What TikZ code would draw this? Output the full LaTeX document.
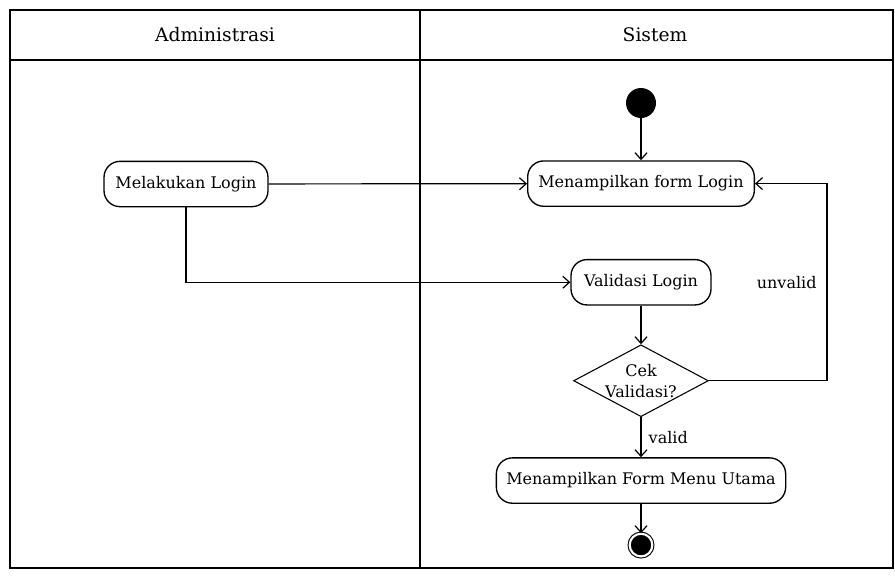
\documentclass[tikz,border=0pt]{standalone}
\usepackage{fontspec}
\setmainfont{DejaVu Serif}
\usepackage{tikz}
\usetikzlibrary{shapes.geometric, arrows.meta, positioning}

\begin{document}
\begin{tikzpicture}[
        x=0.75pt, y=-0.75pt,
        font=\fontsize{12}{14}\selectfont,
        action/.style={rectangle, draw, line width=1pt, rounded corners=12pt, align=center, minimum height=34pt},
        decision/.style={diamond, draw, line width=0.8pt, align=center, inner sep=0pt, aspect=1.875, font=\fontsize{12}{16}\selectfont},
        startdot/.style={circle, fill=black, minimum size=22.5pt, inner sep=0pt},
        enddot/.style={circle, fill=black, draw, line width=0.8pt, double=white, double distance=1.6pt, minimum size=17pt, inner sep=0pt},
        lane/.style={line width=1.2pt},
        arrow/.style={-{Straight Barb[length=5pt, width=9pt]}, line width=0.9pt}
    ]
        \useasboundingbox (0,0) rectangle (895,575);

        % swimlanes
        \draw[lane] (10,10) rectangle (893,568);
        \draw[lane] (10,60) -- (893,60);
        \draw[lane] (420,10) -- (420,568);
        \node[font=\fontsize{14}{16}\selectfont] (laneadm) at (215,35) {Administrasi};
        \node[font=\fontsize{14}{16}\selectfont] (lanesys) at (655,35) {Sistem};

        % activities
        \node[startdot] (start) at (641,103) {};
        \node[action, minimum width=170pt, below=31.5pt of start] (form) {Menampilkan form Login};
        \node[action, minimum width=123pt] (login) at (186,184) {Melakukan Login};
        \node[action, minimum width=105pt, below=39pt of form] (valid) {Validasi Login};
        \node[decision, below=29pt of valid] (cek) {Cek\\Validasi?};
        \node[action, minimum width=217pt, below=30pt of cek] (menu) {Menampilkan Form Menu Utama};
        \node[enddot, below=22pt of menu] (end) {};

        \draw[arrow] (start) -- (form);
        \draw[arrow] (login) -- (form);
        \draw[arrow] (login.south) |- (valid);
        \draw[arrow] (valid) -- (cek);
        \draw[arrow] (cek.east) -- ++(118,0) |- node[pos=0.25, left=4pt] {unvalid} (form.east);
        \draw[arrow] (cek) -- node[right=2pt] {valid} (menu);
        \draw[arrow] (menu) -- (end);
    \end{tikzpicture}
\end{document}
